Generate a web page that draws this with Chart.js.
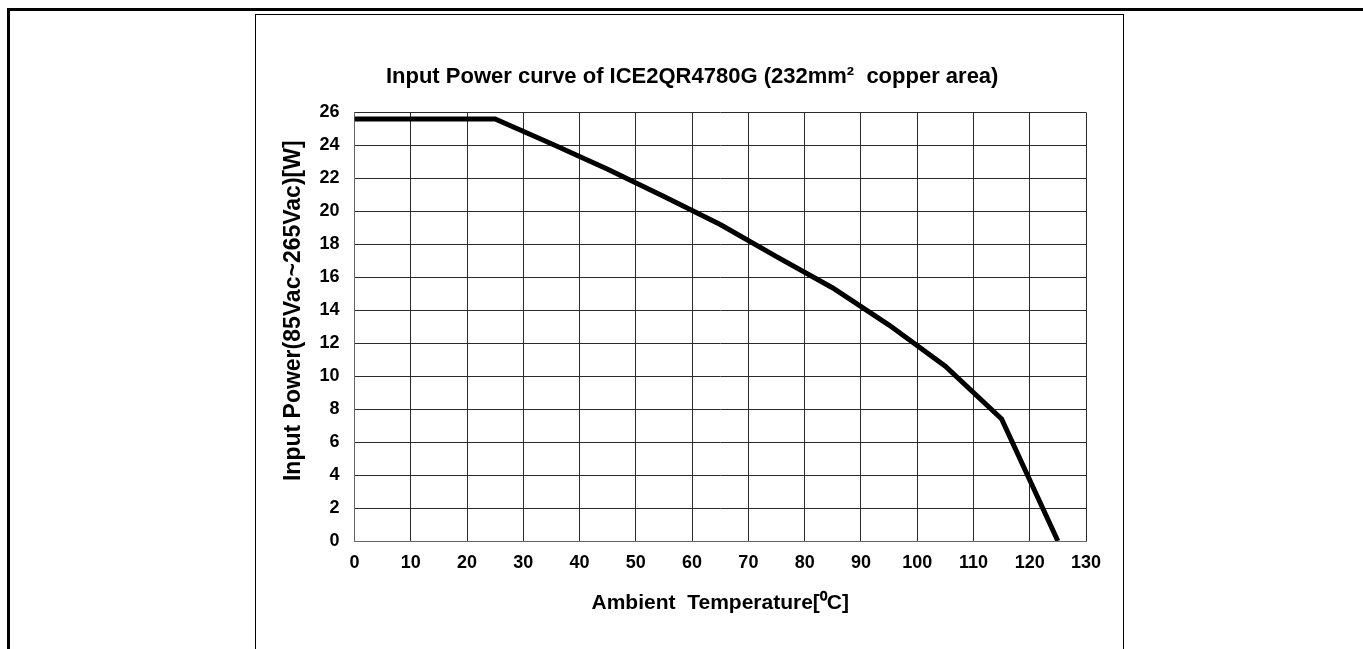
<!DOCTYPE html>
<html>
<head>
<meta charset="utf-8">
<script src="https://cdn.jsdelivr.net/npm/chart.js@4.4.1/dist/chart.umd.min.js"></script>
<style>
    html, body { margin: 0; padding: 0; background: #ffffff; }
    #wrap { position: relative; width: 1363px; height: 649px; overflow: hidden; }
    #outer { position: absolute; left: 7px; top: 8px; right: -10px; bottom: -10px; border-left: 3px solid #000; border-top: 3px solid #000; }
    #frame { position: absolute; left: 255px; top: 14px; width: 867px; bottom: -10px; border: 1px solid #000; }
    #powerChart { position: absolute; left: 0; top: 0; }
</style>
</head>
<body>
<div id="wrap">
    <div id="outer"></div>
    <div id="frame"></div>
    <canvas id="powerChart" width="1363" height="649"></canvas>
</div>
<script>
// Input power derating curve
const temperatures = [0, 25, 35, 45, 55, 65, 75, 85, 95, 105, 115, 125];
const inputPower = [25.6, 25.6, 24.1, 22.55, 20.9, 19.2, 17.25, 15.35, 13.1, 10.6, 7.4, 0];
const xTicks = [0, 10, 20, 30, 40, 50, 60, 70, 80, 90, 100, 110, 120, 130];
const yTicks = [0, 2, 4, 6, 8, 10, 12, 14, 16, 18, 20, 22, 24, 26];

const FONT = '"Liberation Sans", Arial, sans-serif';

function createPowerChart(elementId) {
    const ctx = document.getElementById(elementId);

    if (!ctx || typeof Chart === 'undefined') return;

    new Chart(ctx, {
        type: 'line',
        data: {
            datasets: [{
                label: 'Input Power',
                data: temperatures.map((t, i) => ({ x: t, y: inputPower[i] })),
                borderColor: '#000000',
                borderWidth: 5,
                tension: 0,
                pointRadius: 0,
                fill: false
            }]
        },
        options: {
            responsive: false,
            animation: false,
            layout: {
                padding: { left: 280, right: 277, top: 0, bottom: 33 }
            },
            plugins: {
                legend: { display: false },
                tooltip: { enabled: false },
                title: {
                    display: true,
                    // leading spaces nudge the centred title a little to the right
                    text: '   Input Power curve of ICE2QR4780G (232mm\u00B2  copper area)',
                    color: '#000000',
                    font: { family: FONT, size: 22, weight: 'bold' },
                    padding: { top: 64, bottom: 22 }
                }
            },
            scales: {
                x: {
                    type: 'linear',
                    min: 0,
                    max: 130,
                    afterBuildTicks: function(scale) {
                        scale.ticks = xTicks.map(v => ({ value: v }));
                    },
                    afterFit: function(scale) {
                        scale.height = 75;
                    },
                    grid: { color: '#2a2a2a', lineWidth: 1, drawTicks: false },
                    border: { color: '#666666', width: 1 },
                    ticks: {
                        color: '#000000',
                        padding: 11,
                        maxRotation: 0,
                        font: { family: FONT, size: 18, weight: 'bold' }
                    },
                    title: {
                        display: true,
                        text: 'Ambient  Temperature[\u2070C]',
                        color: '#000000',
                        font: { family: FONT, size: 21, weight: 'bold' },
                        padding: 0
                    }
                },
                y: {
                    min: 0,
                    max: 26,
                    afterBuildTicks: function(scale) {
                        scale.ticks = yTicks.map(v => ({ value: v }));
                    },
                    afterFit: function(scale) {
                        scale.width = 74.5;
                    },
                    grid: { color: '#2a2a2a', lineWidth: 1, drawTicks: false },
                    border: { color: '#666666', width: 1 },
                    ticks: {
                        color: '#000000',
                        padding: 15,
                        font: { family: FONT, size: 18, weight: 'bold' }
                    },
                    title: {
                        display: true,
                        // leading spaces lift the label above the axis centre, as in the original
                        text: '     Input Power(85Vac~265Vac)[W]',
                        color: '#000000',
                        font: { family: FONT, size: 23, weight: 'bold' },
                        padding: 0
                    }
                }
            }
        }
    });
}

createPowerChart('powerChart');
</script>
</body>
</html>
